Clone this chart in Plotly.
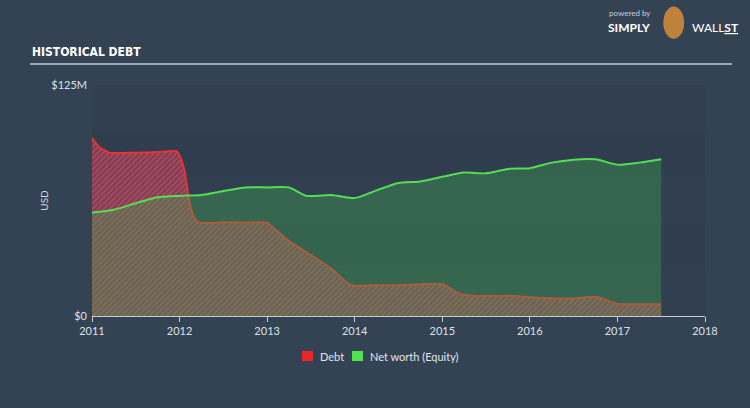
import plotly.graph_objects as go

# ---- data (USD millions) ----
debt_years = [2011.0, 2011.08, 2011.2, 2011.5, 2011.75, 2011.97, 2012.05, 2012.12, 2012.2,
              2012.5, 2012.75, 2013.0, 2013.1, 2013.25, 2013.5, 2013.75, 2013.95, 2014.25,
              2014.5, 2014.75, 2015.0, 2015.2, 2015.4, 2015.75, 2016.0, 2016.25, 2016.5,
              2016.75, 2016.9, 2017.0, 2017.25, 2017.5]
debt_vals = [96.4, 91.5, 88.4, 88.4, 88.7, 88.9, 80.0, 60.0, 50.8,
             50.7, 50.6, 50.4, 46.5, 40.5, 33.0, 25.0, 16.8, 16.6,
             16.6, 17.2, 17.3, 12.0, 10.8, 10.9, 10.2, 9.6, 9.5,
             10.4, 8.2, 6.5, 6.4, 6.4]

eq_years = [2011.0, 2011.25, 2011.5, 2011.75, 2012.0, 2012.25, 2012.5, 2012.75, 2013.0,
            2013.25, 2013.45, 2013.75, 2014.0, 2014.25, 2014.5, 2014.75, 2015.0, 2015.25,
            2015.5, 2015.75, 2016.0, 2016.25, 2016.5, 2016.75, 2017.0, 2017.25, 2017.5]
eq_vals = [56.0, 57.5, 61.0, 64.2, 65.0, 65.5, 67.6, 69.6, 69.6,
           69.6, 65.0, 65.4, 63.8, 68.0, 72.0, 72.8, 75.3, 77.6,
           77.2, 79.6, 80.0, 83.0, 84.6, 84.8, 81.9, 83.0, 84.8]

x_ticks = [2011, 2012, 2013, 2014, 2015, 2016, 2017, 2018]
y_ticks = [0, 125]
y_labels = ["$0", "$125M"]
legend_names = ["Debt", "Net worth (Equity)"]
legend_colors = ["rgb(232,40,40)", "rgb(80,225,80)"]

PAPER = "#344354"
PLOT = "#313e4f"

fig = go.Figure()

# Debt (drawn first, hatched red)
fig.add_trace(go.Scatter(
    x=debt_years, y=debt_vals, mode="lines", name="Debt", showlegend=False,
    line=dict(color="rgb(232,50,52)", width=2, shape="spline", smoothing=0.6),
    fill="tozeroy", fillcolor="rgba(185,60,88,0.55)",
    fillpattern=dict(shape="/", size=4, solidity=0.45,
                     fgcolor="rgba(222,88,108,1)", fillmode="overlay"),
    hoverinfo="skip"))

# Net worth (Equity) on top, translucent green
fig.add_trace(go.Scatter(
    x=eq_years, y=eq_vals, mode="lines", name="Net worth (Equity)", showlegend=False,
    line=dict(color="rgb(84,222,84)", width=2, shape="spline", smoothing=0.6),
    fill="tozeroy", fillcolor="rgba(60,170,80,0.36)",
    hoverinfo="skip"))

# very subtle background bands
for i, y0 in enumerate(range(0, 125, 25)):
    fig.add_shape(type="rect", xref="paper", yref="y", x0=0, x1=1, y0=y0, y1=y0 + 25,
                  fillcolor="rgba(255,255,255,0.006)" if i % 2 == 0 else "rgba(0,0,0,0.008)",
                  line_width=0, layer="below")

# title underline
fig.add_shape(type="line", xref="paper", yref="paper", x0=-0.101, x1=1.044,
              y0=1.091, y1=1.091, line=dict(color="rgb(190,205,215)", width=1.5))

# manual legend
leg_x = [0.3426, 0.4241]
annotations = []
for lx, name, col in zip(leg_x, legend_names, legend_colors):
    fig.add_shape(type="rect", xref="paper", yref="paper", x0=lx, x1=lx + 0.018,
                  y0=-0.1948, y1=-0.1515, fillcolor=col, line_width=0)
    annotations.append(dict(text=name, xref="paper", yref="paper", x=lx + 0.026, y=-0.1732,
                            xanchor="left", yanchor="middle", showarrow=False,
                            font=dict(size=11, color="rgb(225,230,235)")))

annotations += [
    dict(text="<b>HISTORICAL DEBT</b>", xref="paper", yref="paper", x=-0.101, y=1.145,
         xanchor="left", yanchor="middle", showarrow=False,
         font=dict(family="DejaVu Sans Condensed, Liberation Sans Narrow, sans-serif",
                   size=12, color="white")),
    dict(text="powered by", xref="paper", yref="paper", x=0.84, y=1.31,
         xanchor="left", yanchor="middle", showarrow=False,
         font=dict(size=8, color="rgb(200,205,212)")),
    dict(text="<b>SIMPLY</b>", xref="paper", yref="paper", x=0.838, y=1.251,
         xanchor="left", yanchor="middle", showarrow=False,
         font=dict(size=12, color="white")),
    dict(text="WALL<b><u>ST</u></b>", xref="paper", yref="paper", x=0.975, y=1.251,
         xanchor="left", yanchor="middle", showarrow=False,
         font=dict(size=12, color="white")),
]

# small logo mark
fig.add_shape(type="circle", xref="paper", yref="paper", x0=0.932, x1=0.966,
              y0=1.2, y1=1.34, fillcolor="rgb(190,130,60)", line_width=0)

fig.update_layout(
    width=750, height=408,
    margin=dict(l=92, r=45, t=85, b=92, autoexpand=False),
    paper_bgcolor=PAPER, plot_bgcolor=PLOT,
    font=dict(family="Lato, Open Sans, sans-serif", color="rgb(215,220,226)", size=11),
    showlegend=False,
    xaxis=dict(range=[2011, 2018], tickvals=x_ticks, ticktext=[str(t) for t in x_ticks],
               showgrid=False, zeroline=False, showline=True, automargin=False,
               linecolor="rgb(200,206,212)", linewidth=1,
               ticks="outside", ticklen=5, tickcolor="rgb(200,206,212)",
               tickfont=dict(size=11, color="rgb(220,225,230)")),
    yaxis=dict(range=[0, 125], tickvals=y_ticks, ticktext=y_labels, automargin=False,
               showgrid=False, zeroline=False, showline=False, ticks="",
               ticklabelstandoff=4,
               tickfont=dict(size=11, color="rgb(220,225,230)"),
               title=dict(text="USD", font=dict(size=10, color="rgb(215,220,226)"), standoff=0)),
    annotations=annotations,
)

fig.write_html("out.html")
